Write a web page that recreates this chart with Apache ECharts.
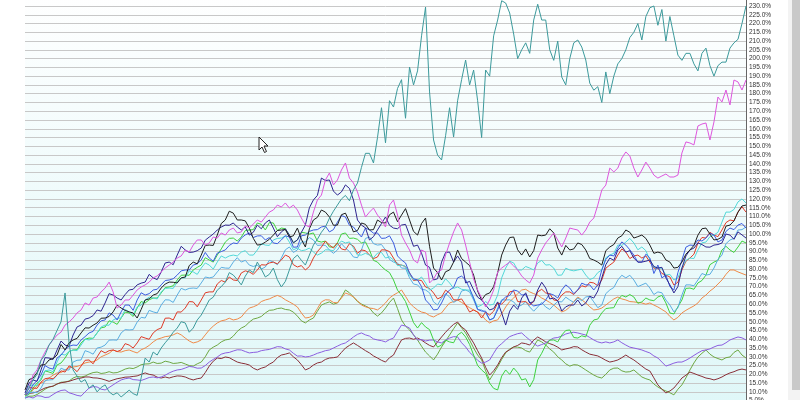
<!DOCTYPE html>
<html>
<head>
<meta charset="utf-8">
<script src="https://cdn.jsdelivr.net/npm/echarts@6/dist/echarts.min.js"></script>
<style>
html,body{margin:0;padding:0;width:800px;height:400px;overflow:hidden;background:#fff;position:relative}
#chart{position:absolute;left:0;top:-20px;width:800px;height:440px}
#track{position:absolute;left:788px;top:0;width:12px;height:400px;background:#f3f3f3}
#thumb{position:absolute;left:792px;top:0;width:8px;height:390px;background:#c9c9c9}
#cursor{position:absolute;left:258px;top:136px;width:12px;height:18px}
</style>
</head>
<body>
<div id="chart"></div>
<div id="track"></div>
<div id="thumb"></div>
<svg id="cursor" viewBox="0 0 12 18"><path d="M1 1 L1 14 L4 11 L6.5 16.5 L8.5 15.5 L6 10 L10 10 Z" fill="#fff" stroke="#222" stroke-width="1"/></svg>
<script>
// ---- data: percent change, 181 sampling steps ----
const teal = [8.3,12,16.8,20,28,31,36.7,40,45,50,66.4,38,22.5,19,15.6,17,12.2,14,10,12.5,14,10,8.3,9.5,7.1,9,11,9,8,18,29.3,27,32.7,31,35,38,40.7,44,46.4,50,49.3,44,46.4,51,53.8,58,62.4,64,68,70,72.6,78,76.6,74,71,76,79.5,78,84,80,75.5,77,80.6,74,69.8,73,79.5,86,88,85,82.3,88,93.7,97,101,104,109,113,116.5,120,122,119,125.1,129,138,146,146,140.5,155,172,152,176,172.4,183,188,166,195.2,185,193,213,229.4,181,153.6,145,142.2,156,172,155.3,176,188,199.2,185,193.5,176,155,193.5,190,213,222,233,231.7,226,214,200,205,209,203,222,231,222,222,205,199,210,189.5,185,200,209,210.6,206.6,199.2,186,182,184,175,192.4,180,190,197,200,205,212,215,220,210.6,224,229,230,219,228,210,224,213,202,199,203,203,197,193,203,206,196,190,196,198,198,206,209,211,220,230];
const magenta = [8.3,12.2,19.6,22.5,28.2,32.7,36.7,39.6,42.4,44.1,48.1,49.8,52.1,55,56.7,60.7,59.5,63.5,64.1,67,69.2,72.6,67,57.8,59.5,62.4,62.4,65.2,68.1,69.8,71,72.6,75,76.1,78.4,80.6,82.3,84,86.3,87.5,90.9,89.7,93.7,96.6,96.6,93.7,94.9,98.3,97.7,100.6,99.4,102.3,103.4,100.6,101.2,104.6,103.4,105.7,108,106.8,109.7,112.5,113.7,116.5,115.4,117.7,114.8,116.5,113.7,109.1,105.1,104,112.5,119.4,122.2,130.8,134.8,128,130.8,136.5,140.5,131.9,129.1,124,116.5,109.7,112.5,114.8,110.8,108,104,116.5,119.4,110.8,99.4,94.9,90.9,85.2,83.5,90.9,89.7,72.1,74.4,78.4,79.5,88,94.9,101.2,106.3,102.3,93.7,84,74.4,68.1,63.5,58.4,62.4,68.1,78.4,80.6,82.3,84,81.8,79.5,76.1,73.8,72.1,76.6,86.3,90.9,94.9,97.7,100.6,96.6,92.6,97.7,103.4,102.8,102.3,99.4,102.3,106.8,109.1,116.5,125.1,127.9,137.6,135.4,137.6,143.3,146.8,144.5,137.6,132.5,136.5,141,137.6,133.6,131.9,133.1,134.2,132.5,132.5,133.6,146.2,152.5,151.9,150.8,161.6,162.7,163.3,153.6,163.9,178.1,175.3,182.1,173.6,187.8,186.7,182.1,187.8];

const black = [11.1,17.9,25.3,28.2,31,33.9,39.6,43.6,46.4,49.3,52.1,55.6,57.8,55.6,52.1,62.4,65.2,69.2,72.6,72.1,75.5,84,88,93.7,99.4,108,111.9,108,103.4,93.7,95.4,99.4,102.3,98.3,103.4,92.6,108,113.7,109.7,105.1,111.9,101.2,106.3,102.3,108,106.3,112.5,110.8,108,99.4,109.1,80.6,73.8,79.5,90.9,84,76.6,62.4,66.4,77.8,93.7,98.3,88,86.9,99.4,99.4,100.6,88,90.9,94.9,90.9,85.2,82.3,92.6,97.7,102.3,97.7,99.4,93.7,89.7,85.2,80.6,84,90.9,99.4,103.4,96.6,98.3,105.1,112.5,116.5];
const blackMid = [17,21,25.5,29,37,38,40.5,46.5,48,52,53,59.5,56.5,55,57,63,66,71.5,72.5,75,82,83,93.5,93.5,106,113,108,107.5,97.5,94,97,102,102.5,99,97,103,109.5,112.5,105,111,107,102,105.5,102.5,106.5,111,107,114.5,101.5,106,93,78,78.5,84,86,82,67.5,65.5,70,88,98,91,91.5,90.5,99,103,92,93.5,91.5,94,86,84,90.5,94,99,101,98.5,97.5,89,89,84,81,88.5,93.5,103,100,97,104.5,107.5,116];
const navy = [9.4,16.8,22.5,29.3,33.9,36.7,42.4,48.1,52.1,56.7,60.7,65.2,62.4,68.1,71,72.6,75,78.4,84,88,90.9,89.7,92,98.3,102.3,105.1,106.3,102.3,99.4,105.1,106.3,103.4,101.2,99.4,96.6,105.1,119.4,131.9,130.8,122.2,128,119.4,105.1,96.6,102.3,109.7,103.4,105.1,99.4,93.7,82.3,73.8,84,89.7,87.5,72.1,68.1,62.4,56.7,61.3,48.1,59.5,63.5,60.7,68.1,69.2,63.5,56.1,59.5,62.4,60.7,63.5,75,86.3,90.9,89.7,86.3,84,85.2,80.6,75,66.4,80.6,90.9,94.9,92.6,93.7,94.9,99.4,101.2,97.7];
const navyMid = [15,16,29.5,28.5,39,36,47,51.5,53.5,56,66,63.5,65.5,68.5,72,77,74,83.5,82.5,93,89.5,90.5,96.5,100,104,105,104,104,101,103,108,98.5,103,95,101,115,122,130.5,124.5,124,126,108,103.5,98.5,106,105,103,105.5,93,89,81,74.5,89.5,84,84,73,64,59.5,57.5,55,56,57,66.5,61.5,72.5,63,62,58.5,59.5,59,64.5,67.5,82.5,85,93,90.5,84,84.5,81.5,81,71,70,87.5,92,94,92.5,94,100,97,99.5];
const blue = [8.3,14,19.6,23.6,29.3,33.9,36.7,39.6,43.6,48.1,51,53.8,55.6,59.5,62.4,65.2,68.1,71,73.8,76.6,79.5,82.3,85.2,86.3,89.1,90.9,94.9,97.7,100.6,98.9,96.6,94.9,96.6,98.3,92.6,99.4,102.3,104,101.2,106.8,109.7,104,98.3,102.3,100.6,97.7,94.9,85.2,77.8,73.8,62.4,56.7,60.7,68.1,75,73.8,63.5,56.1,51,56.7,64.1,68.1,65.2,60.7,59.5,62.4,65.2,68.1,69.2,68.1,71,68.1,79.5,88,92,93.7,88,84,86.3,82.3,76.6,68.1,85.2,93.7,96.6,97.7,99.4,96.6,103.4,105.1,103.4];
const blueMid = [10,16.5,25,23,31,36,36.5,41.5,44.5,50.5,55,51,59.5,56.5,66.5,66,68.5,73.5,74.5,79,79.5,83,89.5,84.5,90,93.5,94.5,99.5,98,99,98,94.5,99,92.5,99,101.5,102.5,104.5,102.5,110.5,105,101,103.5,100.5,97.5,99,87.5,83.5,74.5,70,60,57,65.5,69.5,76,69,57,56,52,62,65,67.5,65.5,59,60,66,63.5,71,66,72,71,71,85.5,87.5,95.5,91,84,88.5,77.5,75,70,78,92.5,93.5,96,100.5,95.5,101.5,102.5,106];
const red = [8.3,12.2,15.6,17.9,19.6,21.3,23.6,24.7,28.2,29.9,32.2,33.9,33.9,36.7,37.9,40.7,43.6,46.4,52.1,55.6,57.8,61.3,62.4,67,71.5,72.6,73.8,77.8,78.4,79.5,82.3,84,85.2,86.9,81.2,79.5,86.3,92.6,93.7,94.9,90.9,93.1,90.9,88,86.9,90.9,86.3,82.3,77.8,73.8,69.8,66.4,64.1,66.4,62.4,59.5,56.7,52.1,53.8,60.7,62.4,67.5,61.3,59.5,67,66.4,62.4,65.2,67,68.1,69.8,72.1,73.8,82.3,88,89.7,87.5,86.3,84,80.6,76.6,70.9,79.5,86.3,94.9,97.7,99.4,102.3,108,112.5,112.5];
const redMid = [12.5,12,17.5,17.5,22,24.8,21.5,28,26,33.5,33.5,33,37.5,35,41.5,40,45.5,52,51,55.5,61.5,58.5,66.5,67,73.5,75.5,73.5,79,77,82.5,83.5,83,88,82.5,82,81.5,90,96,92,91.5,94.5,89,90.5,86,91,90,82.5,81.5,73.5,73.5,69,63,68,62.5,63,55.5,55.5,55.5,56,60,67,61.5,61.5,61.5,68.5,66,62,67,65.5,70.5,72.5,70.5,80.5,84,91.5,86,88,87.5,80.5,77.5,75.5,72.5,84.5,88.5,98,101,98.5,106.5,107.5,115.5];
const cyan = [8.3,14,17.9,22.5,27,31,33.9,36.7,39.6,43.6,48.1,51,52.1,55.6,58.4,62.4,63.5,67,69.2,72.6,75,78.4,80.6,82.3,84,86.3,88,89.7,88,90.9,93.7,96.6,97.7,95.4,92,90.9,89.7,89.1,90.9,93.7,94.9,92,88,88,89.1,86.3,85.2,82.3,76.6,73.8,72.1,69.2,71,72.1,69.8,68.1,63.5,59.5,59.5,65.2,80.6,83.5,79.5,80.6,83.5,82.3,80.6,76.6,79.5,79.5,76.6,75,79.5,88,93.7,95.4,94.9,92.6,85.2,80.6,76.6,73.8,80.6,86.3,90.9,95.4,99.4,106.8,112.5,118.3,117.7];
const cyanMid = [13.5,13.5,22,21.5,31.5,33,33.5,40,40.5,47,48,52,57,54,59.5,64,63,69,69,75,79,77,83.5,80,87.5,87.5,87.5,90.5,88,94.5,93.5,97.5,99,91,90.5,92,88,91,90.5,96,95.5,88,89,86.5,89.5,87,82,81.5,74,75.5,68,71.5,74.5,69,68.5,68,58.5,61.5,60,75,84.5,79.5,81.5,79.5,85,82.5,76.5,80.5,79,80,74,78,86.5,89,93.5,97.5,91,90.5,81,80.5,77,75,85,86,95,98.5,101,112.5,114,120];
const lightblue = [6.5,9.9,12.2,16.8,19.6,22.5,27,28.2,32.7,35,36.7,39.6,43.6,45.3,49.8,52.1,55.6,59.5,62.4,65.2,68.1,69.2,72.1,75,78.4,80.6,84,84,82.3,82.3,81.2,84,86.3,92.6,90.9,95.4,96.6,93.7,90.9,90.9,92,86.9,90.9,98.3,93.7,90.9,84,80.6,75,71,68.1,61.3,63.5,64.1,62.4,68.1,62.4,56.7,51,57.8,62.4,61.3,59.5,58.4,58.4,58.4,59.5,61.3,62.4,63.5,64.1,61.3,59.5,68.1,73.8,75,73.8,71,69.2,67,62.4,55.6,65.2,71,73.8,76.6,80.6,88,96.6,102.3,104];
const lightblueMid = [9.5,9.5,16.5,17,23.5,22.5,28,33.5,31.5,35.5,39.5,39.5,45.5,45.5,52.5,56.5,55,62.5,61,69,69,69,75.5,75.5,81,80.5,86.5,85,81.5,80,85,82.5,91,89.5,95.5,98,93.5,93.5,89,94.5,90,86.5,97.5,94.5,94,85.5,83.5,80.5,71.5,68.5,66.5,59.5,66,61,67.5,67,57,55,52,62.5,62.5,58.5,61.3,56,61,57,61.5,64,61,62,64.5,58,66,69.5,76.5,76.5,70,72,65.5,66.5,59.5,58,71,70.5,77.5,77,85.5,94.5,97.5,102.5];
const green = [7.6,12.2,16.8,21.3,25.3,29.3,33.9,37.9,40.7,43.6,47,49.8,52.1,55,57.8,60.7,63.5,66.4,69.8,73.8,76.6,79.5,82.3,85.2,88,95.4,97.7,98.3,102.3,106.3,102.3,106.3,103.4,99.4,96.6,100.6,100.6,95.4,92.6,94.9,100.6,97.7,94.9,90.9,84,79.5,73.8,65.2,55.6,46.4,47,39.6,36.7,38.5,42.4,41.3,31,22.5,15,11.1,22.5,23.6,16.8,12.8,28.2,36.7,39.6,42.4,45.3,40.7,41.3,51,55,57.8,62.4,64.1,64.1,61.3,62.4,64.1,60.7,54.4,62.4,69.2,72.1,76.6,84,90.9,90.9,92.6,94.9];
const greenMid = [8.5,15,22,20.5,26.5,33,34,40,40.5,46.5,50.5,48.5,55.5,53,61.5,62.5,63.5,69.5,70.5,76.5,76.5,81,86.5,84,91.5,97.5,96,102,102.5,105.5,106.5,102,103,95,101,100,96,96,92.5,100,97.5,97,95.5,85,81.5,78,68,61.5,49.5,49.5,45.5,35.5,39.5,38,44,37,25,20.5,12,19,20,21,17.5,17,32,39.5,38.5,45,41,42,48,51.5,57.5,58,65,65.5,60.5,63.5,62,65,55,58.5,69,68.5,73.5,82.5,85,93,89.5,96];
const orange = [7.6,11.1,15.1,17.9,20.8,22.5,24.2,25.3,27,28.2,31,33.9,32.7,33.9,32.2,35,38.5,40.7,41.8,43.6,40.7,37.9,39.6,45.3,49.3,51,51,52.7,57.8,59.5,62.4,64.1,64.1,61.3,58.4,52.1,53.8,61.3,62.4,60.7,66.4,64.1,59.5,57.8,56.7,60.7,65.2,68.1,60.7,56.7,55,52.7,55,60.7,62.4,59.5,56.7,53.8,49.3,51,58.4,63.5,68.1,67,65.2,62.4,59.5,55.6,58.4,64.1,60.7,56.7,57.8,61.3,64.1,62.4,61.3,60.7,60.7,58.4,55.6,51,55,57.8,60.7,65.2,69.2,73.8,79.5,78.4,76.6];
const orangeMid = [9,13.5,16,19.5,21,23.8,24.5,26.5,27.2,30,32,33,33.5,33,34,36.5,40,41.5,42.5,42.5,39,38.5,42.5,47.5,50.5,52,51.5,55.5,58.5,61.5,63,65,62.5,60,55,52.5,57.5,62.5,61,63.5,65.5,62,58.5,57.5,58.5,63.5,66.5,64.5,58.5,55.5,53.5,54,58,61.5,61,58,55.5,51,50.5,54.5,61.5,66,68.5,66,63.5,61,57.5,56.5,61.5,62.5,58.5,57,59.5,63,63,61.5,61,60,59.5,57,53,52.5,56.5,59,63.5,67.5,71.5,77,79.5,77.5];
const olive = [6.5,7.6,9.9,12.8,14.5,15.6,17.9,18.5,20.2,21.3,20.8,20.8,21.9,23.6,24.2,25.9,27,26.4,27,26.4,25.9,24.7,27,33.9,36.7,39.6,41.8,46.4,49.8,52.1,55,56.7,57.8,56.7,53.2,49.3,52.1,59.5,61.3,60.7,68.1,64.1,60.1,57.8,53.2,57.8,63.5,51,45.3,39.6,32.7,28.2,35.6,42.4,49.3,43.6,35,28.2,16.8,24.2,32.2,35.6,35,32.7,39.6,36.7,32.7,28.2,24.7,25.3,22.5,19.6,17.9,22.5,23.6,21.3,22.5,18.5,16.8,12.8,10.5,8.3,14,22.5,29.9,33.9,29.9,28.2,29.9,33.9,29.3];
const oliveMid = [7.5,8.5,11.5,13.2,15.5,16.2,18.8,19,21,20.5,21.5,21,23,23.3,25.5,26,26.2,27.5,26.2,26.8,25,26,30,35.5,38.5,40,44.5,47.5,51.5,53,56.5,57.5,57,55.5,50.5,51,56,60.5,60,64,66.5,61.5,59,55,55,61,57.5,47.5,42.5,36,30.5,31.5,39,46,46.5,39.5,31,22,20.5,28.5,34.5,35.5,33.5,36,38.5,34.5,30,26,25.5,24,21,18.5,20,23.5,22,21.5,20.5,17.5,14.5,11.5,9.5,11.5,18,26.5,32,31.5,29,29.5,32.5,31];
const maroon = [8.3,9.4,11.1,12.8,14.5,15.6,16.8,17.9,18.5,17.9,16.8,16.8,17.9,18.5,19.1,20.8,19.6,17.9,17.9,19.1,18.5,16.8,17.9,24.7,29.3,29.9,28.2,26.4,25.3,22.5,24.2,27,31,32.2,28.2,22.5,25.3,27,29.3,29.9,35,37.9,35,32.2,29.3,27,31,39.6,40.7,40.7,37.9,35.6,41.3,46.4,49.8,45.3,37.9,29.3,19.6,25.3,32.7,35.6,37.9,36.7,41.3,38.5,36.7,33.9,35,35.6,32.7,31,29.3,27,28.2,31,28.2,24.7,21.9,14,9.4,12.2,17.9,21.3,19.6,17.9,16.8,18.5,20.8,22.5,22.5];
const maroonMid = [9.2,10,12.2,13.3,15.2,16,17.5,18.5,18,17.5,16,17.5,18.4,18.8,20,20,18.4,18.5,18.6,19,17.5,17.5,21,27.5,29,29.5,27,26,23.5,23.5,25.8,29.5,31.5,30,25.5,23.5,26.5,28.5,29.5,32.5,36.5,36.5,33.5,30.5,28,29.5,35.5,40.5,40,39.5,36.5,38.5,44,48.5,47,41.5,33.5,24,22,29.5,34,36.5,37.5,39.5,40,37.5,35.5,34.5,35.8,34,31.5,30.5,28,27.5,29.5,29.5,26.5,23,18,11.5,10.5,15,19.5,20.5,18.8,17.5,17.5,19.8,21.5,23];
const purple = [6.5,6.5,7.6,7,9.9,11.1,8.8,7.6,12.2,12.8,11.1,14,16.8,17.9,16.8,17.3,18.5,18.5,20.8,22.5,23.6,24.2,23.6,27,29.9,32.2,33.3,33.9,32.2,32.7,33.9,35,35.6,33.9,30.4,29.9,31,32.7,33.9,36.1,37.9,41.3,43.6,41.8,39.6,38.5,40.7,48.1,46.4,39.6,39,39.6,37.9,40.7,41.3,35.6,30.4,26.4,28.2,35.6,39.6,42.4,43.6,39.6,36.1,37.9,40.7,41.8,43.6,43.6,42.4,39.6,37.9,37.9,39.6,36.7,35,33.9,32.2,29.3,24.7,26.4,27,29.3,32.2,33.9,35.6,36.7,39.6,41.3,39.6];
const purpleMid = [7.2,7.8,6.8,8.5,10.8,9.5,8,10,13,11.5,12.5,15.5,17.5,17,16.5,18.2,18,19.5,21.8,22.8,24.5,23.5,25,28.5,31.5,32.5,34,33,32.5,33.5,34.2,35.8,34.5,32,30.5,30.2,32,33.5,35,37.2,39.5,42.8,42.5,40.2,39.2,39.8,44.5,47.5,42.5,39.8,39.5,38.5,39.5,41.5,38,32.5,28,27,32,37.5,41.5,43.2,41.5,37.5,37,39.5,41,43,44,43,41,38.5,38.5,38.5,38,35.5,34.5,33,30.5,27,25.5,27,28,30.8,33.5,34.5,36.5,38,40.5,40.8];

// combine coarse readings with the in-between readings
function weave(a, m) {
  const out = [];
  a.forEach((v, i) => { out.push(v); if (i < m.length) out.push(m[i]); });
  return out;
}

const categories = teal.map((_, i) => 'd' + (i + 1));

const seriesList = [
  ['olive', weave(olive, oliveMid), '#6ea842'],
  ['maroon', weave(maroon, maroonMid), '#8a2f38'],
  ['purple', weave(purple, purpleMid), '#8c5ee0'],
  ['orange', weave(orange, orangeMid), '#f08a48'],
  ['green', weave(green, greenMid), '#3ed23e'],
  ['lightblue', weave(lightblue, lightblueMid), '#5aaee2'],
  ['red', weave(red, redMid), '#e03a26'],
  ['cyan', weave(cyan, cyanMid), '#52d8d8'],
  ['blue', weave(blue, blueMid), '#3b5ce0'],
  ['navy', weave(navy, navyMid), '#2e2490'],
  ['black', weave(black, blackMid), '#1e1e1e'],
  ['magenta', magenta, '#de56de'],
  ['teal', teal, '#3c9a9c']
];

const chart = echarts.init(document.getElementById('chart'), null, {renderer: 'canvas'});
chart.setOption({
  animation: false,
  backgroundColor: '#ffffff',
  grid: {
    left: 25, right: 54, top: 8.46, bottom: 10.58,
    show: true, borderWidth: 0,
    backgroundColor: new echarts.graphic.LinearGradient(0, 0, 0, 1, [
      {offset: 0, color: '#ffffff'},
      {offset: 1, color: '#dff7f8'}
    ])
  },
  xAxis: {
    type: 'category', data: categories, boundaryGap: false,
    axisLine: {show: false}, axisTick: {show: false}, axisLabel: {show: false}, splitLine: {show: false}
  },
  yAxis: {
    type: 'value', position: 'right', min: 0, max: 240, interval: 5,
    axisLine: {show: true, lineStyle: {color: '#666666', width: 1}},
    axisTick: {show: false},
    axisLabel: {
      margin: 3, fontSize: 6.5, color: '#333333', fontFamily: 'Liberation Sans, Arial, sans-serif',
      formatter: v => v.toFixed(1) + '%'
    },
    splitLine: {show: true, lineStyle: {color: '#c8c8c8', width: 1}}
  },
  series: seriesList.map(([name, data, color]) => ({
    name, type: 'line', data, symbol: 'none', smooth: false,
    lineStyle: {width: 1, color}, itemStyle: {color}
  }))
});
</script>
</body>
</html>
